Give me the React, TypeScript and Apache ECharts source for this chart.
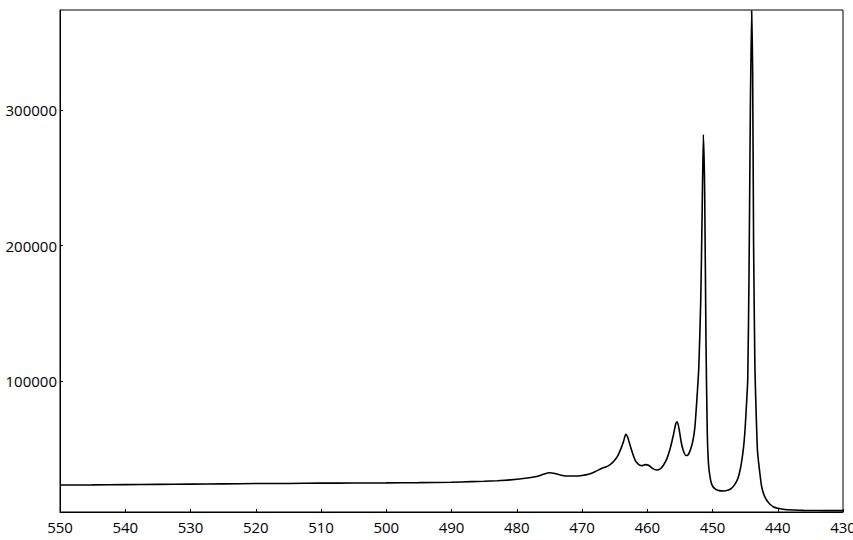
import React, { useEffect, useRef } from "react";
import * as echarts from "echarts";

const wavelengths = [
  550, 545, 540, 535, 530, 525, 520, 515, 510, 505, 500, 495, 490, 487, 485, 483, 481, 479, 477, 476,
  475, 474, 473, 472, 471, 470, 469, 468, 467, 466.2, 465.5, 465, 464.5, 464, 463.6, 463.3, 463, 462.6,
  462.2, 461.8, 461.3, 460.9, 460.3, 459.8, 459.2, 458.6, 458, 457.5, 457, 456.5, 456, 455.6, 455.4,
  455.1, 454.8, 454.5, 454.1, 453.8, 453.4, 453, 452.7, 452.4, 452.1, 451.8, 451.6, 451.4, 451.2, 451,
  450.8, 450.6, 450.3, 450, 449.5, 449, 448.3, 447.7, 447.1, 446.6, 446.1, 445.7, 445.4, 445.2, 445,
  444.8, 444.6, 444.4, 444.2, 444.0, 443.85, 443.7, 443.5, 443.3, 443.1, 442.8, 442.5, 442.2, 441.8,
  441.4, 441, 440.7, 440, 439.4, 438.5, 437.6, 436, 434, 432, 430,
];

const intensities = [
  23200, 23300, 23500, 23700, 23900, 24100, 24300, 24400, 24600, 24700, 24800, 25000, 25300, 25700,
  26000, 26400, 27000, 28000, 29500, 31000, 32300, 31500, 30300, 29900, 29900, 30300, 31200, 33000,
  35500, 36800, 39000, 41500, 45000, 50500, 56000, 60700, 58500, 52000, 46000, 41000, 38200, 37500,
  38300, 37800, 35500, 34300, 35200, 38000, 42500, 50000, 60000, 69000, 70000, 64000, 55000, 49000,
  45000, 45200, 49000, 56000, 66000, 86000, 110000, 160000, 220000, 282000, 240000, 130000, 62000,
  38000, 27000, 22500, 20000, 19100, 18800, 19300, 20800, 23500, 28200, 36000, 45000, 53000, 65000,
  82000, 101000, 180000, 300000, 373500, 330000, 200000, 110000, 75000, 48000, 34300, 23000, 17100,
  12800, 10200, 8300, 7200, 6000, 5500, 5000, 4800, 4500, 4400, 4300, 4300,
];

const xTickInterval = 10;
const yTickStep = 100000;

export default function App() {
  const ref = useRef<HTMLDivElement>(null);
  useEffect(() => {
    if (!ref.current) return;
    const chart = echarts.init(ref.current, null, { renderer: "svg" });
    const data = wavelengths.map((w, i) => [w, intensities[i]]);
    const font = { fontFamily: "Open Sans", fontSize: 15, color: "#000" };
    chart.setOption({
      animation: false,
      grid: {
        left: 60,
        right: 10,
        top: 10,
        bottom: 28,
        outerBoundsMode: "none",
        containLabel: false,
        show: true,
        borderColor: "#000",
        borderWidth: 1,
        backgroundColor: "#fff",
      },
      xAxis: {
        type: "value",
        inverse: true,
        min: 430,
        max: 550,
        interval: xTickInterval,
        axisLine: { show: true, lineStyle: { color: "#000", width: 1 } },
        axisTick: { show: true, inside: true, length: 3, lineStyle: { color: "#000" } },
        axisLabel: { ...font, margin: 7 },
        splitLine: { show: false },
      },
      yAxis: {
        type: "value",
        min: 3300,
        max: 374000,
        splitNumber: 4,
        axisLine: { show: true, lineStyle: { color: "#000", width: 1 } },
        axisTick: { show: true, inside: true, length: 3, lineStyle: { color: "#000" } },
        axisLabel: {
          ...font,
          margin: 3,
          showMinLabel: false,
          showMaxLabel: false,
          formatter: (v: number) => (v % yTickStep === 0 ? String(v) : ""),
        },
        splitLine: { show: false },
      },
      series: [
        {
          type: "line",
          data,
          showSymbol: false,
          smooth: 0.2,
          lineStyle: { color: "#000", width: 1.6 },
          itemStyle: { color: "#000" },
        },
      ],
    });
    return () => chart.dispose();
  }, []);
  return (
    <div
      ref={ref}
      style={{ position: "fixed", left: 0, top: 0, width: 853, height: 540, background: "#fff" }}
    />
  );
}
